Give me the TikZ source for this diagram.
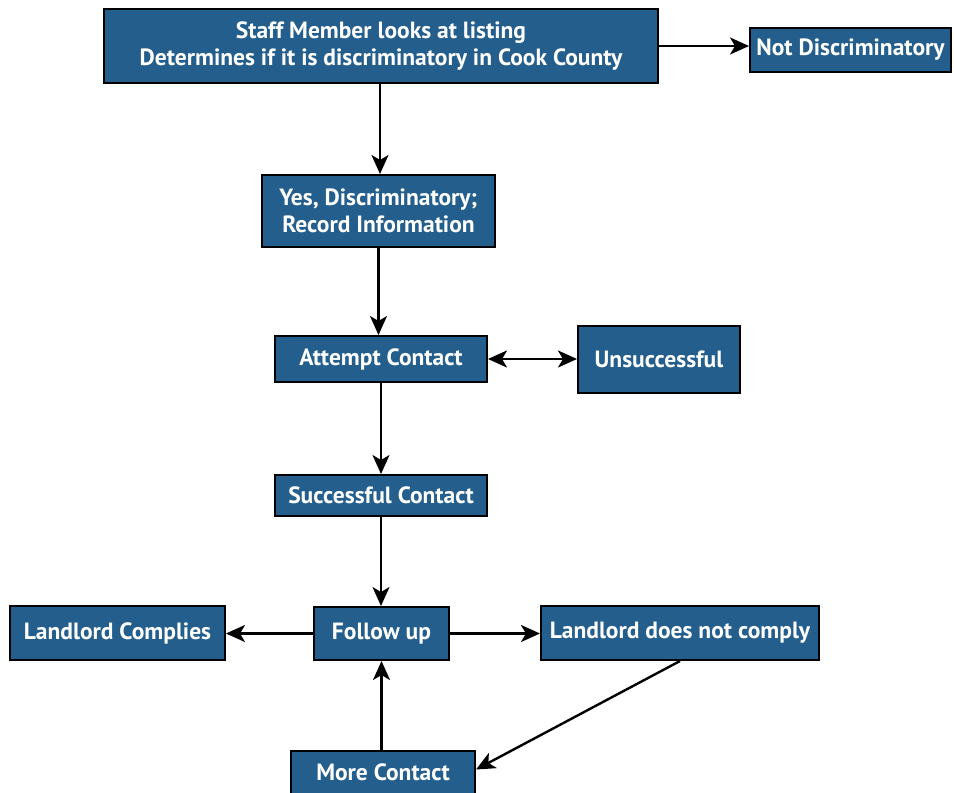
\documentclass[tikz,border=0pt]{standalone}
\usepackage{fontspec}
\setmainfont{PT Sans}
\usetikzlibrary{arrows.meta,calc}
\definecolor{boxblue}{HTML}{235E8C}
\begin{document}
\begin{tikzpicture}[x=1pt,y=-1pt,
  fbox/.style={draw=black,line width=2pt,fill=boxblue,text=white,font=\bfseries\fontsize{23.5}{27}\selectfont,align=center,inner sep=0pt,anchor=north west},
  tip/.tip={Stealth[length=19pt,width=17pt,inset=5pt]},
  arr/.style={line width=2.4pt,-tip},
  darr/.style={line width=2.4pt,tip-tip}]
\useasboundingbox (0,0) rectangle (954,793);
\node[fbox,minimum width=554pt,minimum height=74pt] (top) at (103,8) {Staff Member looks at listing\\Determines if it is discriminatory in Cook County};
\node[fbox,minimum width=201pt,minimum height=44pt] (nd) at (749,27) {Not Discriminatory};
\node[fbox,minimum width=233pt,minimum height=72pt] (yes) at (261,174) {Yes, Discriminatory;\\Record Information};
\node[fbox,minimum width=212pt,minimum height=46pt] (att) at (274,335) {Attempt Contact};
\node[fbox,minimum width=162pt,minimum height=67pt] (uns) at (577,325) {Unsuccessful};
\node[fbox,minimum width=212pt,minimum height=41pt] (suc) at (274,474) {Successful Contact};
\node[fbox,minimum width=135pt,minimum height=53pt] (fol) at (313,606) {Follow up};
\node[fbox,minimum width=215pt,minimum height=54pt] (lc) at (9,605) {Landlord Complies};
\node[fbox,minimum width=278pt,minimum height=54pt] (ldnc) at (540,605) {Landlord does not comply};
\node[fbox,minimum width=184pt,minimum height=43pt] (more) at (290,750) {More Contact};
\draw[arr] ($(top.south west)+(277,0)$) coordinate (t1) -- (t1 |- yes.north);
\draw[arr] (top.east) -- (top.east -| nd.west);
\draw[arr] (yes.south) -- (yes.south |- att.north);
\draw[darr] (att.east) -- (att.east -| uns.west);
\draw[arr] (att.south) -- (att.south |- suc.north);
\draw[arr] (suc.south) -- (suc.south |- fol.north);
\draw[arr] (fol.west) -- (fol.west -| lc.east);
\draw[arr] (fol.east) -- (fol.east -| ldnc.west);
\draw[arr] (ldnc.south) -- ($(more.east)+(0,-3)$);
\draw[arr] (more.north -| fol.south) -- (fol.south);
\end{tikzpicture}
\end{document}
